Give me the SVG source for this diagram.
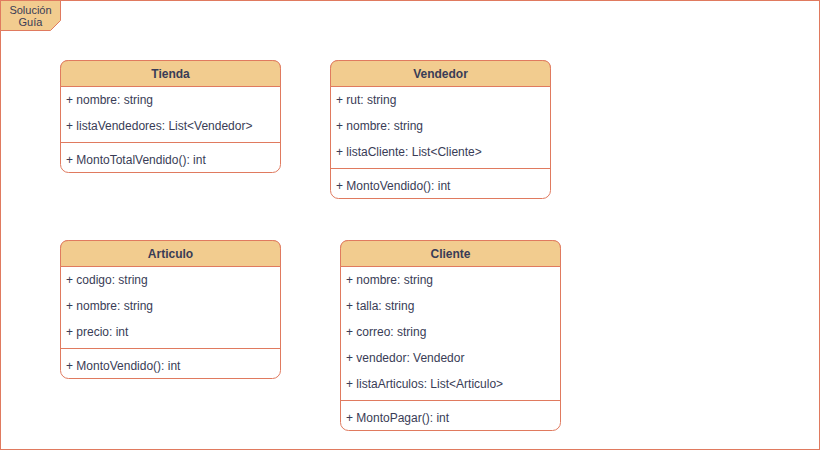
<svg xmlns="http://www.w3.org/2000/svg" width="821" height="451" viewBox="0 0 821 451">
<style>
.frame{fill:#FFFFFF;stroke:#E07A5F;stroke-width:1}
.tab{fill:#F2CC8F;stroke:#E07A5F;stroke-width:1}
.box{fill:#FFFFFF;stroke:#E07A5F;stroke-width:1}
.hdr{fill:#F2CC8F;stroke:#E07A5F;stroke-width:1}
.sep{stroke:#E07A5F;stroke-width:1}
text{font-family:"Liberation Sans",Arial,Helvetica,sans-serif;fill:#393C56;font-size:12px}
.title{font-weight:bold;text-anchor:middle}
.tabt{font-size:11px;text-anchor:middle}
</style>
<g id="frame">
<rect class="frame" x="0.5" y="0.5" width="819" height="449"/>
<path class="tab" d="M0.5 0.5 H60.5 V20.5 L50.5 30.5 H0.5 Z"/>
<text class="tabt" x="30.5" y="13.5">Solución</text>
<text class="tabt" x="30.5" y="25.5">Guía</text>
</g>
<g id="connectors"></g>
<g id="tienda">
<rect class="box" x="60.5" y="60.5" width="220" height="112" rx="8"/>
<path class="hdr" d="M60.5 86.5 V68.5 Q60.5 60.5 68.5 60.5 H272.5 Q280.5 60.5 280.5 68.5 V86.5 Z"/>
<text class="title" x="170.5" y="78">Tienda</text>
<text x="66" y="104">+ nombre: string</text>
<text x="66" y="130">+ listaVendedores: List&lt;Vendedor&gt;</text>
<line class="sep" x1="60.5" y1="142.5" x2="280.5" y2="142.5"/>
<text x="66" y="164">+ MontoTotalVendido(): int</text>
</g>
<g id="vendedor">
<rect class="box" x="330.5" y="60.5" width="220" height="138" rx="8"/>
<path class="hdr" d="M330.5 86.5 V68.5 Q330.5 60.5 338.5 60.5 H542.5 Q550.5 60.5 550.5 68.5 V86.5 Z"/>
<text class="title" x="440.5" y="78">Vendedor</text>
<text x="336" y="104">+ rut: string</text>
<text x="336" y="130">+ nombre: string</text>
<text x="336" y="156">+ listaCliente: List&lt;Cliente&gt;</text>
<line class="sep" x1="330.5" y1="168.5" x2="550.5" y2="168.5"/>
<text x="336" y="190">+ MontoVendido(): int</text>
</g>
<g id="articulo">
<rect class="box" x="60.5" y="240.5" width="220" height="138" rx="8"/>
<path class="hdr" d="M60.5 266.5 V248.5 Q60.5 240.5 68.5 240.5 H272.5 Q280.5 240.5 280.5 248.5 V266.5 Z"/>
<text class="title" x="170.5" y="258">Articulo</text>
<text x="66" y="284">+ codigo: string</text>
<text x="66" y="310">+ nombre: string</text>
<text x="66" y="336">+ precio: int</text>
<line class="sep" x1="60.5" y1="348.5" x2="280.5" y2="348.5"/>
<text x="66" y="370">+ MontoVendido(): int</text>
</g>
<g id="cliente">
<rect class="box" x="340.5" y="240.5" width="220" height="190" rx="8"/>
<path class="hdr" d="M340.5 266.5 V248.5 Q340.5 240.5 348.5 240.5 H552.5 Q560.5 240.5 560.5 248.5 V266.5 Z"/>
<text class="title" x="450.5" y="258">Cliente</text>
<text x="346" y="284">+ nombre: string</text>
<text x="346" y="310">+ talla: string</text>
<text x="346" y="336">+ correo: string</text>
<text x="346" y="362">+ vendedor: Vendedor</text>
<text x="346" y="388">+ listaArticulos: List&lt;Articulo&gt;</text>
<line class="sep" x1="340.5" y1="400.5" x2="560.5" y2="400.5"/>
<text x="346" y="422">+ MontoPagar(): int</text>
</g>
</svg>
